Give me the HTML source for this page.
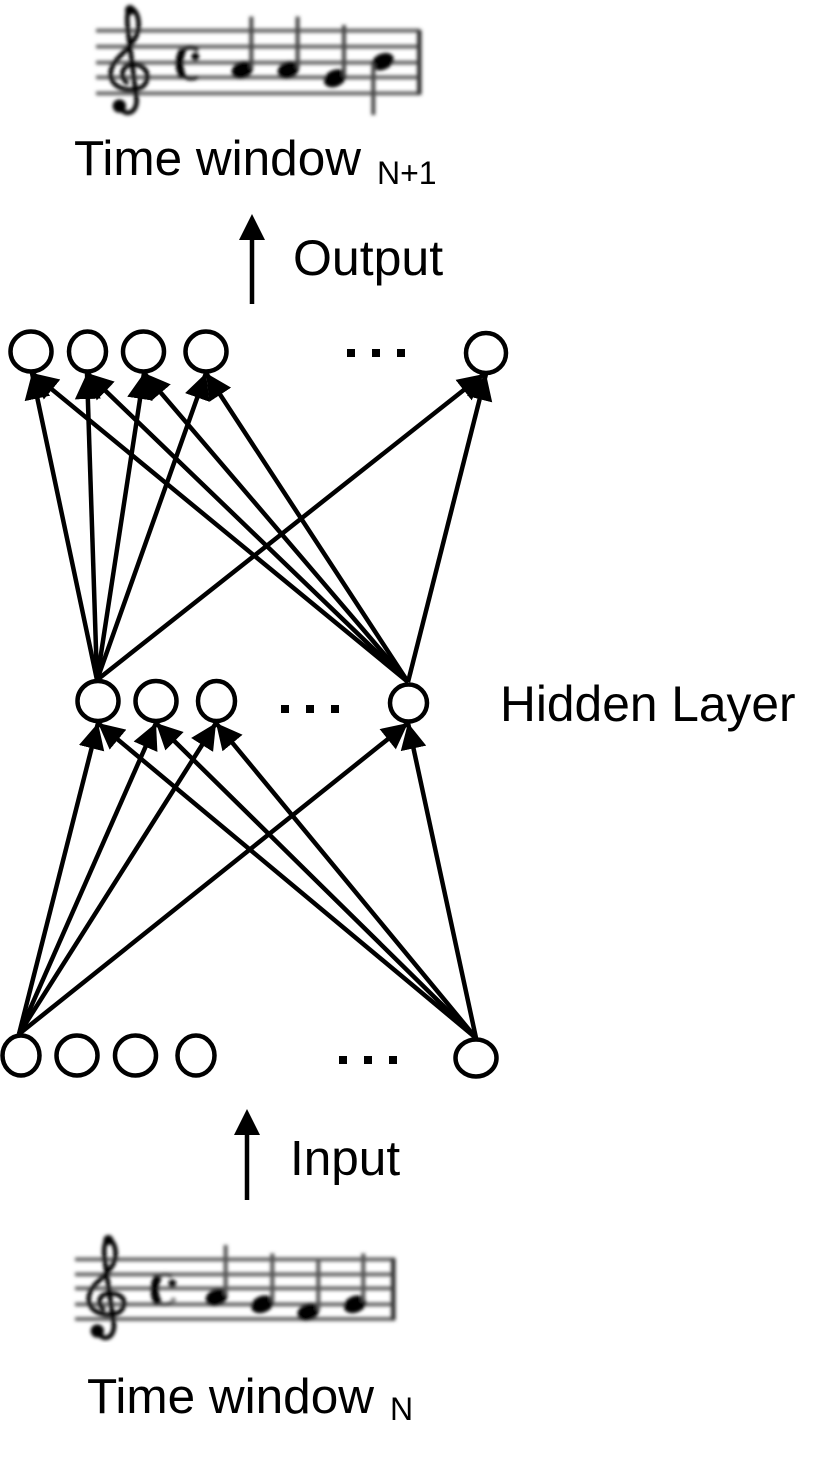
<!DOCTYPE html>
<html>
<head>
<meta charset="utf-8">
<style>
html,body{margin:0;padding:0;background:#fff;}
svg{display:block;}
text{font-family:"Liberation Sans",Arial,sans-serif;fill:#000;}
</style>
</head>
<body>
<svg width="825" height="1458" viewBox="0 0 825 1458" xmlns="http://www.w3.org/2000/svg">
<defs>
<marker id="a" markerUnits="userSpaceOnUse" markerWidth="27" markerHeight="28" refX="26" refY="14" orient="auto">
<path d="M0,1 L26,14 L0,27 Z" fill="#000"/>
</marker>
<filter id="b" x="-5%" y="-5%" width="110%" height="110%"><feGaussianBlur stdDeviation="5.5"/></filter>
</defs>

<!-- top score -->
<g transform="translate(80,0) scale(0.3333)" filter="url(#b)">
<g stroke="#666" stroke-width="12" fill="none">
<path d="M48 92H1020M48 140H1020M48 188H1020M48 232H1020M48 280H1020"/>
</g>
<path d="M1018 90V284" stroke="#333" stroke-width="14"/>
<path d="M118 318C130 350 170 345 170 300L145 100C140 60 140 30 152 25C175 30 185 80 165 115C140 160 90 180 92 225C95 265 150 280 185 262C215 240 205 195 160 192C125 192 115 235 145 250" fill="none" stroke="#000" stroke-width="14"/>
<circle cx="118" cy="318" r="20" fill="#000"/>
<circle cx="150" cy="30" r="15" fill="#000"/>
<path d="M355 150C320 130 292 155 292 190C292 225 320 245 355 232" fill="none" stroke="#000" stroke-width="11"/>
<path d="M308 150C296 175 296 205 308 232" fill="none" stroke="#000" stroke-width="22"/>
<circle cx="346" cy="170" r="12" fill="#000"/>
<g fill="#000">
<ellipse cx="487" cy="210" rx="33" ry="25" transform="rotate(-22 487 210)"/>
<ellipse cx="625" cy="210" rx="33" ry="25" transform="rotate(-22 625 210)"/>
<ellipse cx="765" cy="235" rx="35" ry="25" transform="rotate(-25 765 235)"/>
<ellipse cx="908" cy="185" rx="35" ry="24" transform="rotate(-25 908 185)"/>
</g>
<g stroke="#444" stroke-width="12">
<path d="M514 50V205M653 50V205M792 75V230M880 190V345"/>
</g>
</g>

<!-- bottom score -->
<g transform="translate(60,1225) scale(0.3333)" filter="url(#b)">
<g stroke="#666" stroke-width="12" fill="none">
<path d="M45 103H1005M45 148H1005M45 190H1005M45 238H1005M45 282H1005"/>
</g>
<path d="M1000 100V285" stroke="#333" stroke-width="14"/>
<path d="M112 318C124 350 162 345 162 300L135 110C130 75 132 50 145 42C168 50 175 95 155 125C130 165 85 180 86 225C90 265 145 280 177 262C205 240 195 205 150 205C115 205 108 240 135 255" fill="none" stroke="#000" stroke-width="14"/>
<circle cx="112" cy="318" r="20" fill="#000"/>
<circle cx="145" cy="45" r="15" fill="#000"/>
<path d="M296 155C280 175 280 215 296 235" fill="none" stroke="#000" stroke-width="24"/>
<path d="M296 155C310 145 325 148 335 155M296 235C310 240 325 238 335 232" fill="none" stroke="#333" stroke-width="9"/>
<circle cx="337" cy="175" r="12" fill="#111"/>
<circle cx="340" cy="225" r="8" fill="#888"/>
<g fill="#000">
<ellipse cx="470" cy="217" rx="34" ry="25" transform="rotate(-22 470 217)"/>
<ellipse cx="607" cy="238" rx="35" ry="25" transform="rotate(-22 607 238)"/>
<ellipse cx="745" cy="261" rx="34" ry="25" transform="rotate(-22 745 261)"/>
<ellipse cx="885" cy="238" rx="35" ry="25" transform="rotate(-22 885 238)"/>
</g>
<g stroke="#555" stroke-width="12">
<path d="M497 60V210M637 85V230M775 105V255M910 85V230"/>
</g>
</g>

<!-- connectors -->
<g stroke="#000" stroke-width="4.5" fill="none" stroke-linecap="butt">
<line x1="252" y1="304" x2="252" y2="230"/>
<line x1="247" y1="1200" x2="247" y2="1126"/>

<line x1="97" y1="680" x2="32" y2="373" marker-end="url(#a)"/>
<line x1="97" y1="680" x2="87" y2="373" marker-end="url(#a)"/>
<line x1="97" y1="680" x2="144" y2="373" marker-end="url(#a)"/>
<line x1="97" y1="680" x2="206" y2="373" marker-end="url(#a)"/>
<line x1="97" y1="680" x2="484" y2="374" marker-end="url(#a)"/>

<line x1="408" y1="682" x2="32" y2="373" marker-end="url(#a)"/>
<line x1="408" y1="682" x2="87" y2="373" marker-end="url(#a)"/>
<line x1="408" y1="682" x2="144" y2="373" marker-end="url(#a)"/>
<line x1="408" y1="682" x2="206" y2="373" marker-end="url(#a)"/>
<line x1="408" y1="682" x2="486" y2="374" marker-end="url(#a)"/>

<line x1="19" y1="1034" x2="98" y2="723" marker-end="url(#a)"/>
<line x1="19" y1="1034" x2="156" y2="723" marker-end="url(#a)"/>
<line x1="19" y1="1034" x2="216" y2="723" marker-end="url(#a)"/>
<line x1="19" y1="1034" x2="408" y2="723" marker-end="url(#a)"/>

<line x1="476" y1="1038" x2="98" y2="723" marker-end="url(#a)"/>
<line x1="476" y1="1038" x2="156" y2="723" marker-end="url(#a)"/>
<line x1="476" y1="1038" x2="216" y2="723" marker-end="url(#a)"/>
<line x1="476" y1="1038" x2="408" y2="723" marker-end="url(#a)"/>
</g>
<path d="M239 240L252 214L265 240Z M234 1135L247 1109L260 1135Z" fill="#000"/>

<!-- nodes -->
<g fill="#fff" stroke="#000" stroke-width="4.5">
<ellipse cx="31" cy="351.5" rx="20.5" ry="20"/>
<ellipse cx="87.5" cy="351.5" rx="18.5" ry="20"/>
<ellipse cx="143.5" cy="351.5" rx="20.5" ry="20"/>
<ellipse cx="206" cy="351.5" rx="20.5" ry="20"/>
<ellipse cx="486" cy="353" rx="20" ry="20"/>

<ellipse cx="98" cy="701" rx="20.5" ry="20"/>
<ellipse cx="156" cy="701" rx="20.5" ry="20"/>
<ellipse cx="216.5" cy="701" rx="18.5" ry="20"/>
<ellipse cx="408.5" cy="703" rx="18.5" ry="18.5"/>

<ellipse cx="21" cy="1055.5" rx="18.5" ry="20"/>
<ellipse cx="77" cy="1055.5" rx="20.5" ry="20"/>
<ellipse cx="135.5" cy="1055.5" rx="20.5" ry="20"/>
<ellipse cx="196" cy="1055.5" rx="18.5" ry="20"/>
<ellipse cx="476" cy="1058" rx="20.5" ry="18.5"/>
</g>

<!-- ellipsis dots -->
<g fill="#000">
<rect x="347" y="349" width="8" height="8"/><rect x="372" y="349" width="8" height="8"/><rect x="397" y="349" width="8" height="8"/>
<rect x="281" y="705" width="8" height="8"/><rect x="306" y="705" width="8" height="8"/><rect x="331" y="705" width="8" height="8"/>
<rect x="339" y="1056" width="8" height="8"/><rect x="364" y="1056" width="8" height="8"/><rect x="389" y="1056" width="8" height="8"/>
</g>

<!-- labels -->
<text x="74" y="175" font-size="49.5">Time window</text>
<text x="377" y="184" font-size="32">N+1</text>
<text x="293" y="275" font-size="50">Output</text>
<text x="500" y="721" font-size="49.7">Hidden Layer</text>
<text x="290" y="1175" font-size="49.5">Input</text>
<text x="87" y="1413" font-size="49.5">Time window</text>
<text x="390" y="1420" font-size="32">N</text>
</svg>
</body>
</html>
